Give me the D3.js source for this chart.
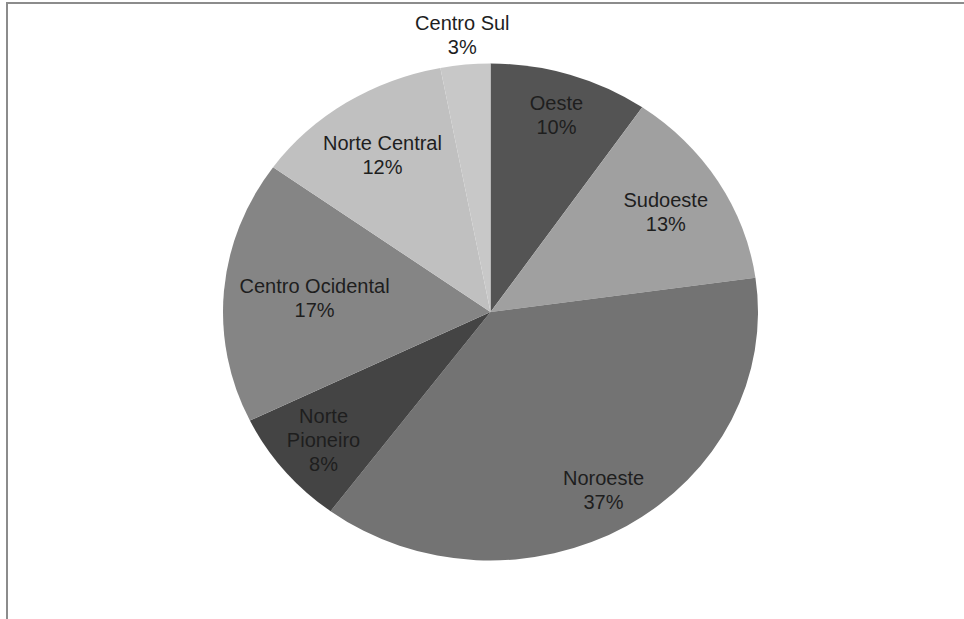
<!DOCTYPE html>
<html>
<head>
<meta charset="utf-8">
<script src="https://cdn.jsdelivr.net/npm/d3@7"></script>
<style>
  html, body { margin: 0; padding: 0; background: #fff; }
  svg { display: block; }
</style>
</head>
<body>
<div id="chart"></div>
<script>
// regions, clockwise from 12 o'clock
const regions = ["Oeste", "Sudoeste", "Noroeste", "Norte Pioneiro", "Centro Ocidental", "Norte Central", "Centro Sul"];
const shares = [9.6, 13.2, 37.4, 7.6, 17.1, 12.1, 3.0];
const shades = ["#545454", "#a0a0a0", "#737373", "#444444", "#858585", "#c0c0c0", "#c8c8c8"];

const width = 964, height = 619;
const cx = 490.5, cy = 312;
const rx = 267.5, ry = 248.5;
const fontSize = 20, lineH = 24;

const svg = d3.select("#chart").append("svg")
    .attr("width", width)
    .attr("height", height);

// frame (only top and left edges visible in the crop)
svg.append("rect")
    .attr("x", 7).attr("y", 3)
    .attr("width", width + 20).attr("height", height + 20)
    .attr("fill", "none")
    .attr("stroke", "#8c8c8c")
    .attr("stroke-width", 2);

const data = regions.map((r, i) => ({ region: r, value: shares[i], color: shades[i] }));
const total = d3.sum(shares);

const pie = d3.pie().value(d => d.value).sort(null);
const arcs = pie(data);

const arc = d3.arc().innerRadius(0).outerRadius(ry);

// pie is slightly wider than tall, so stretch it horizontally
const g = svg.append("g")
    .attr("transform", `translate(${cx},${cy}) scale(${rx / ry},1)`);

g.selectAll("path")
    .data(arcs)
    .enter()
    .append("path")
    .attr("d", arc)
    .attr("fill", d => d.data.color);

// labels
const labels = svg.append("g")
    .style("font-family", "'Liberation Sans', Arial, sans-serif")
    .style("font-size", fontSize + "px")
    .attr("fill", "#1e1e1e");

const pct = d3.format(".0%");

function inside(x, y, k) {
    const u = (x - cx) / (rx * k), v = (y - cy) / (ry * k);
    return u * u + v * v <= 1;
}

arcs.forEach(d => {
    const frac = d.data.value / total;
    const outside = frac < 0.05;
    const lines = (!outside && frac < 0.09) ? d.data.region.split(" ") : [d.data.region];
    lines.push(pct(Math.round(frac * 100) / 100));

    const mid = (d.startAngle + d.endAngle) / 2;
    const t = labels.append("text").attr("text-anchor", "middle");
    lines.forEach(l => t.append("tspan").text(l));

    const widths = [];
    t.selectAll("tspan").each(function() { widths.push(this.getComputedTextLength()); });
    const h = lines.length * lineH;

    // does every line's box sit inside the pie?
    function fits(x, y, k) {
        return widths.every((w, i) => {
            const top = y - h / 2 + lineH * i + 5, bot = top + lineH - 8;
            return inside(x - w / 2, top, k) && inside(x + w / 2, top, k) &&
                   inside(x - w / 2, bot, k) && inside(x + w / 2, bot, k);
        });
    }

    let x, y;
    if (outside) {
        // small slice: label outside, just above the rim
        const ex = cx + rx * Math.sin(mid), ey = cy - ry * Math.cos(mid);
        x = ex - 3;
        y = ey - 6 - h / 2;
    } else {
        // best fit: start near the rim and pull in until the block fits
        for (let r = 0.83; r > 0.3; r -= 0.01) {
            x = cx + r * rx * Math.sin(mid);
            y = cy - r * ry * Math.cos(mid);
            if (fits(x, y, 0.95)) break;
        }
    }

    t.selectAll("tspan")
        .attr("x", x)
        .attr("y", (l, i) => y - h / 2 + lineH * (i + 1) - 5);
});
</script>
</body>
</html>
